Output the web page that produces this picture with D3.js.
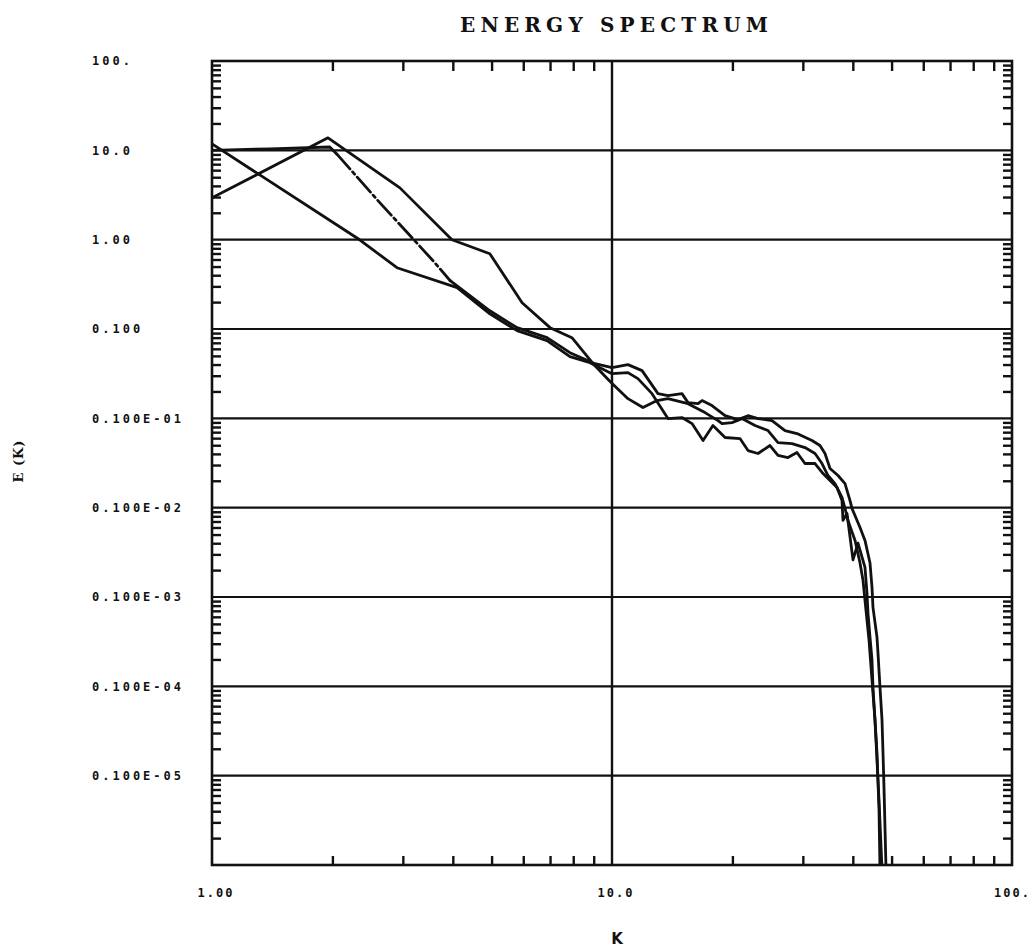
<!DOCTYPE html>
<html><head><meta charset="utf-8">
<script src="https://cdn.jsdelivr.net/npm/d3@7"></script>
<style>body{margin:0;background:#fff}</style>
</head><body>
<svg id="c" width="1035" height="951"></svg>
<script>
// ---- data ----
const c1K = [1.00,2.34,2.90,4.10,4.95,5.79,6.88,7.85,8.81,10.0,10.96,11.61,12.59,13.80,14.96,15.85,16.89,17.88,19.17,20.89,21.88,23.17,24.83,26.00,27.54,29.00,30.37,32.18,33.70,35.08,36.52,37.58,37.80,38.68,40.04,41.21,42.90,43.40,43.65,44.16,44.67,44.92,45.97,46.51,46.77];
const c1E = [11.8,0.997,0.485,0.290,0.148,0.0958,0.074,0.0491,0.0420,0.0316,0.0325,0.0278,0.0189,0.00993,0.0102,0.00873,0.00564,0.00830,0.00610,0.00594,0.00436,0.00404,0.00496,0.00384,0.00364,0.00414,0.00312,0.00312,0.00241,0.00201,0.00168,0.00120,0.00072,0.00086,0.00026,0.00040,0.000214,0.000110,6.57e-5,3.54e-5,1.96e-5,9.77e-6,1.79e-6,4.12e-7,9e-8];

const c2K = [1.00,1.95,2.95,3.98,4.95,5.96,7.00,7.94,8.97,9.89,10.96,11.95,12.96,13.80,15.49,17.08,18.41,18.84,19.95,21.13,22.78,24.55,26.00,28.18,30.37,32.18,33.50,34.67,36.10,37.58,38.24,38.90,40.51,41.69,42.42,43.15,43.91,44.67,45.45,45.97,46.51,47.32];
const c2E = [2.94,13.8,3.80,0.997,0.695,0.197,0.1035,0.080,0.0409,0.0258,0.0166,0.0132,0.0158,0.0166,0.0146,0.0116,0.00944,0.00873,0.00896,0.00993,0.00830,0.00730,0.00536,0.00522,0.00471,0.00404,0.00312,0.00229,0.00186,0.00130,0.00098,0.00072,0.00043,0.00024,0.000153,7.10e-5,3.27e-5,1.17e-5,4.18e-6,1.49e-6,5.33e-7,9e-8];

const c3K = [1.00,1.40,1.97,2.05,2.63,3.13,3.57,3.94,4.95,5.79,6.88,7.85,9.07,10.0,10.96,11.89,13.03,13.80,14.96,15.49,16.41,16.79,17.78,19.17,20.65,21.88,23.17,25.12,27.07,29.00,31.62,33.11,34.08,35.08,36.73,38.24,39.36,39.81,41.69,42.90,44.16,44.67,44.92,45.97,46.24,46.77,47.32,47.59,47.86,48.42];
const c3E = [10.0,10.4,10.9,9.12,2.58,1.105,0.581,0.347,0.160,0.1035,0.080,0.0543,0.0409,0.0370,0.0399,0.0342,0.0189,0.0180,0.0189,0.0150,0.0146,0.0158,0.0139,0.0107,0.00968,0.0107,0.00993,0.00944,0.00730,0.00676,0.00564,0.00496,0.00404,0.00274,0.00229,0.00186,0.00120,0.00098,0.00060,0.00043,0.00024,0.000128,7.66e-5,3.54e-5,2.34e-5,9.77e-6,4.18e-6,1.79e-6,7.45e-7,9e-8];

const yTickValues = [100,10,1,0.1,0.01,1e-3,1e-4,1e-5,1e-6];
const yTickLabels = ["100.","10.0","1.00","0.100","0.100E-01","0.100E-02","0.100E-03","0.100E-04","0.100E-05"];
const xTickValues = [1,10,100];
const xTickLabels = ["1.00","10.0","100."];
const yGridValues = [10,1,0.1,0.01,1e-3,1e-4,1e-5,1e-6];
const xGridValues = [10];
const titleText = "ENERGY SPECTRUM";
const xTitle = "K";
const yTitle = "E (K)";

// ---- layout ----
const L = 212, R = 1012, T = 61, B = 865;
const ink = "#111";
const svg = d3.select("#c");
const x = d3.scaleLog().domain([1,100]).range([L,R]);
const y = d3.scaleLog().domain([1e-7,100]).range([B,T]);

svg.append("rect").attr("width",1035).attr("height",951).attr("fill","#fff");

// minor ticks
const minors = (lo, hi) => {
  const out = [];
  for (let d = lo; d < hi*0.999; d *= 10) for (let m = 2; m <= 9; m++) out.push(d*m);
  return out;
};
const xMinor = minors(1,100);
const yMinor = minors(1e-7,100);

function tickG(axis, tx, ty){
  const g = svg.append("g").attr("transform",`translate(${tx},${ty})`).call(axis);
  g.select(".domain").remove();
  g.selectAll("line").attr("stroke",ink).attr("stroke-width",2.4);
  g.selectAll("text").remove();
}
tickG(d3.axisBottom(x).tickValues(xMinor).tickSize(-9).tickFormat(""), 0, B);
tickG(d3.axisTop(x).tickValues(xMinor).tickSize(-10).tickFormat(""), 0, T);
tickG(d3.axisLeft(y).tickValues(yMinor).tickSize(-9).tickFormat(""), L, 0);
tickG(d3.axisRight(y).tickValues(yMinor).tickSize(-9).tickFormat(""), R, 0);

// gridlines
svg.append("g").selectAll("line").data(yGridValues).join("line")
  .attr("x1",L).attr("x2",R).attr("y1",d=>y(d)).attr("y2",d=>y(d))
  .attr("stroke",ink).attr("stroke-width",2.2);
svg.append("g").selectAll("line").data(xGridValues).join("line")
  .attr("x1",d=>x(d)).attr("x2",d=>x(d)).attr("y1",T).attr("y2",B)
  .attr("stroke",ink).attr("stroke-width",2.4);

// frame
svg.append("rect").attr("x",L).attr("y",T).attr("width",R-L).attr("height",B-T)
  .attr("fill","none").attr("stroke",ink).attr("stroke-width",2.6);

// curves
svg.append("clipPath").attr("id","clip").append("rect")
  .attr("x",L).attr("y",T).attr("width",R-L).attr("height",B-T);
const line = d3.line().x(d=>x(d[0])).y(d=>y(d[1]));
const gC = svg.append("g").attr("clip-path","url(#clip)")
  .attr("fill","none").attr("stroke",ink).attr("stroke-width",2.8)
  .attr("stroke-linejoin","round").attr("stroke-linecap","round");
const zip = (a,b) => a.map((v,i)=>[v,b[i]]);
const s1 = zip(c1K,c1E), s2 = zip(c2K,c2E), s3 = zip(c3K,c3E);
gC.append("path").attr("d", line(s1));
gC.append("path").attr("d", line(s2));
// third curve: its steep section was plotted as a broken line
const dashFrom = 3, dashTo = 7;
gC.append("path").attr("d", line(s3.slice(0,dashFrom+1)));
gC.append("path").attr("d", line(s3.slice(dashFrom,dashTo+1))).attr("stroke-dasharray","20,4,3,4");
gC.append("path").attr("d", line(s3.slice(dashTo)));

// tick labels
const lblFont = "'DejaVu Sans Mono', monospace";
svg.append("g").selectAll("text").data(yTickValues).join("text")
  .attr("x",92).attr("y",d=>y(d)).attr("dy","0.35em")
  .attr("font-family",lblFont).attr("font-weight","bold").attr("font-size",12)
  .attr("letter-spacing","3px").attr("fill",ink)
  .text((d,i)=>yTickLabels[i]);
svg.append("g").selectAll("text").data(xTickValues).join("text")
  .attr("x",(d,i)=>i===xTickValues.length-1 ? 1031 : x(d)+4)
  .attr("text-anchor",(d,i)=>i===xTickValues.length-1 ? "end" : "middle")
  .attr("y",897)
  .attr("font-family",lblFont).attr("font-weight","bold").attr("font-size",12)
  .attr("letter-spacing","2px").attr("fill",ink)
  .text((d,i)=>xTickLabels[i]);

// titles
svg.append("text").attr("x",460).attr("y",32)
  .attr("font-family","'DejaVu Serif', serif").attr("font-weight","bold").attr("font-size",20)
  .attr("textLength",308).attr("lengthAdjust","spacing")
  .attr("fill",ink).text(titleText);
svg.append("text").attr("x",617).attr("y",944).attr("text-anchor","middle")
  .attr("font-family","'DejaVu Sans', sans-serif").attr("font-weight","bold").attr("font-size",15)
  .attr("fill",ink).text(xTitle);
svg.append("text").attr("transform","translate(23,461) rotate(-90)").attr("text-anchor","middle")
  .attr("font-family","'DejaVu Serif', serif").attr("font-weight","bold").attr("font-size",13)
  .attr("letter-spacing","1px").attr("fill",ink).text(yTitle);
</script>
</body></html>
